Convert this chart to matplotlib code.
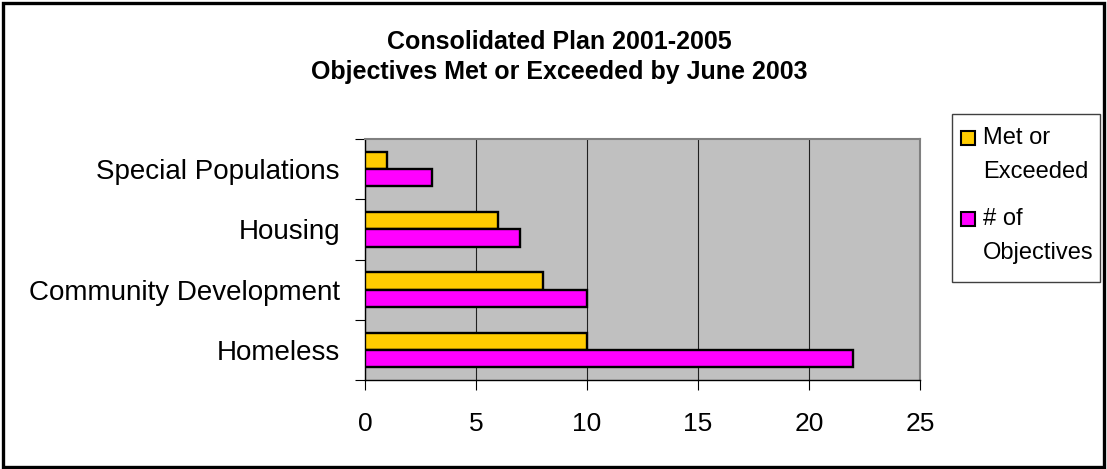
import matplotlib.pyplot as plt
from matplotlib.patches import Rectangle
import numpy as np

plt.rcParams['font.family'] = ['Liberation Sans', 'DejaVu Sans']

# objectives by program area, listed bottom to top
categories = ['Homeless', 'Community Development', 'Housing', 'Special Populations']
met = [10, 8, 6, 1]
objectives = [22, 10, 7, 3]
xticks = [0, 5, 10, 15, 20, 25]
series = [('Met or', 'Exceeded'), ('# of', 'Objectives')]

yellow = '#FFCC00'
magenta = '#FF00FF'

W, H = 1107, 469
fig = plt.figure(figsize=(W / 100, H / 100), dpi=100)
ax = fig.add_axes([365 / W, 1 - 380 / H, 555 / W, 241 / H])
ax.set_facecolor('#C0C0C0')

y = np.arange(len(categories))
h = 0.287
ax.barh(y + h / 2, met, height=h, color=yellow, edgecolor='black', linewidth=1.7, zorder=3)
ax.barh(y - h / 2, objectives, height=h, color=magenta, edgecolor='black', linewidth=1.7, zorder=3)

ax.set_xlim(0, 25)
ax.set_ylim(-0.5, len(categories) - 0.5)
ax.set_xticks(xticks)
ax.set_xticklabels([str(t) for t in xticks], fontsize=19)
ax.xaxis.grid(True, color='#202020', linewidth=0.8, zorder=1)
ax.tick_params(axis='x', direction='out', length=7, width=0.8, pad=16)

# category ticks sit on the boundaries, names sit in between
ax.set_yticks(np.arange(-0.5, len(categories), 1.0))
ax.set_yticklabels([])
ax.set_yticks(y, minor=True)
ax.set_yticklabels(categories, minor=True, fontsize=20)
ax.tick_params(axis='y', which='major', direction='out', length=7, width=0.8)
ax.tick_params(axis='y', which='minor', length=0, pad=18)

for s in ['top', 'right']:
    ax.spines[s].set_color('#808080')
    ax.spines[s].set_linewidth(1.5)
for s in ['left', 'bottom']:
    ax.spines[s].set_color('black')
    ax.spines[s].set_linewidth(1.0)

fig.text(559 / W, 1 - 42 / H, 'Consolidated Plan 2001-2005', ha='center', va='center',
         fontsize=18, fontweight='bold')
fig.text(559 / W, 1 - 72 / H, 'Objectives Met or Exceeded by June 2003', ha='center', va='center',
         fontsize=18, fontweight='bold')

# legend box drawn by hand so the swatch lines up with the first line of each label
fig.patches.append(Rectangle((952 / W, 1 - 282 / H), 148 / W, 168 / H, transform=fig.transFigure,
                             facecolor='white', edgecolor='#404040', linewidth=1.0))
for i, (color, (l1, l2)) in enumerate(zip([yellow, magenta], series)):
    top = 138 + i * 81
    fig.patches.append(Rectangle((961 / W, 1 - (top + 7) / H), 14 / W, 14 / H,
                                 transform=fig.transFigure, facecolor=color,
                                 edgecolor='black', linewidth=1.5))
    fig.text(983 / W, 1 - top / H, l1, ha='left', va='center', fontsize=17)
    fig.text(983 / W, 1 - (top + 34) / H, l2, ha='left', va='center', fontsize=17)

# chart border
fig.patches.append(Rectangle((3 / W, 2 / H), 1101 / W, 464 / H, transform=fig.transFigure,
                             fill=False, edgecolor='black', linewidth=2.4))

fig.savefig('out.png', dpi=100)
